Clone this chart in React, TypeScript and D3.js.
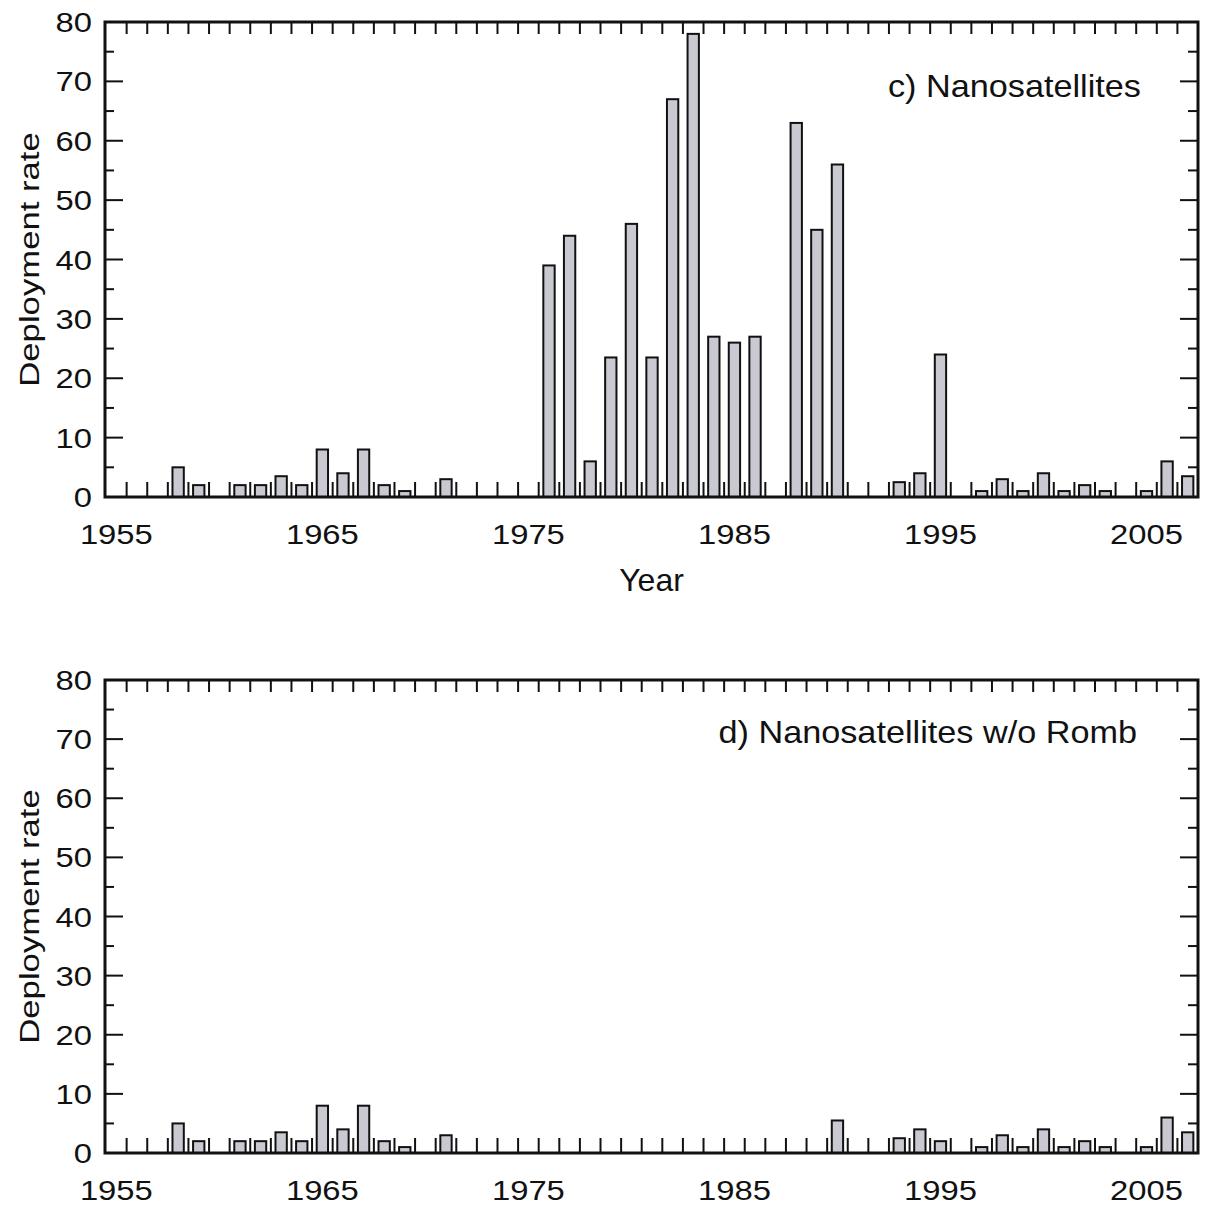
import React from "react";
import * as d3 from "d3";

// deployment rate per year
const years = [
  1958, 1959, 1961, 1962, 1963, 1964, 1965, 1966, 1967, 1968, 1969, 1971,
  1976, 1977, 1978, 1979, 1980, 1981, 1982, 1983, 1984, 1985, 1986, 1988,
  1989, 1990, 1993, 1994, 1995, 1997, 1998, 1999, 2000, 2001, 2002, 2003,
  2005, 2006, 2007,
];
const nanoAll = [
  5, 2, 2, 2, 3.5, 2, 8, 4, 8, 2, 1, 3,
  39, 44, 6, 23.5, 46, 23.5, 67, 78, 27, 26, 27, 63,
  45, 56, 2.5, 4, 24, 1, 3, 1, 4, 1, 2, 1,
  1, 6, 3.5,
];
const nanoNoRomb = [
  5, 2, 2, 2, 3.5, 2, 8, 4, 8, 2, 1, 3,
  0, 0, 0, 0, 0, 0, 0, 0, 0, 0, 0, 0,
  0, 5.5, 2.5, 4, 2, 1, 3, 1, 4, 1, 2, 1,
  1, 6, 3.5,
];
const yearLabels = [1955, 1965, 1975, 1985, 1995, 2005];
const rateTicks = [0, 10, 20, 30, 40, 50, 60, 70, 80];
const rateMinor = [5, 15, 25, 35, 45, 55, 65, 75];

const W = 1214;
const H = 1211;
const FONT = "'Liberation Sans', Arial, Helvetica, sans-serif";
const BAR_FILL = "#c9c9d1";
const INK = "#111";

function Panel({ values, label, top, bottom, legendY, legendX, showTitle }) {
  const x = d3.scaleLinear().domain([1954.45, 2007.5]).range([105, 1198]);
  const y = d3.scaleLinear().domain([0, 80]).range([bottom, top]);
  const [x0, x1] = x.range();
  const bw = x(1955.55) - x(1955);
  // year boundaries get the small ticks
  const bounds = d3.range(1955, 2007).map(d => d + 0.5);
  const rows = years.map((yr, i) => ({ yr, v: values[i] })).filter(d => d.v > 0);

  return (
    <g>
      {rows.map(d => (
        <rect
          key={d.yr}
          x={x(d.yr) - bw / 2}
          y={y(d.v)}
          width={bw}
          height={y(0) - y(d.v)}
          fill={BAR_FILL}
          stroke={INK}
          strokeWidth={2}
        />
      ))}

      {bounds.map(b => (
        <g key={b} stroke={INK} strokeWidth={2}>
          <line x1={x(b)} x2={x(b)} y1={bottom} y2={bottom - 15} />
          <line x1={x(b)} x2={x(b)} y1={top} y2={top + 12} />
        </g>
      ))}

      {rateTicks.map(t => (
        <g key={t} stroke={INK} strokeWidth={2}>
          <line x1={x0} x2={x0 + 18} y1={y(t)} y2={y(t)} />
          <line x1={x1} x2={x1 - 18} y1={y(t)} y2={y(t)} />
        </g>
      ))}
      {rateMinor.map(t => (
        <g key={t} stroke={INK} strokeWidth={2}>
          <line x1={x0} x2={x0 + 9} y1={y(t)} y2={y(t)} />
          <line x1={x1} x2={x1 - 10} y1={y(t)} y2={y(t)} />
        </g>
      ))}

      <rect x={x0} y={top} width={x1 - x0} height={bottom - top} fill="none" stroke={INK} strokeWidth={3} />

      <g fontFamily={FONT} fontSize={28} fill={INK}>
        {rateTicks.map(t => (
          <text key={t} transform={`translate(${x0 - 13},${y(t)}) scale(1.17,1)`} dy="0.36em" textAnchor="end">
            {t}
          </text>
        ))}
        {yearLabels.map(yr => (
          <text key={yr} transform={`translate(${x(yr)},${bottom + 47}) scale(1.17,1)`} textAnchor="middle">
            {yr}
          </text>
        ))}
        <text transform={`translate(39,${(top + bottom) / 2}) rotate(-90) scale(1.24,1)`} textAnchor="middle">
          Deployment rate
        </text>
      </g>

      <text
        transform={`translate(${legendX},${legendY}) scale(1.07,1)`}
        textAnchor="end"
        fontFamily={FONT}
        fontSize={32}
        fill={INK}
      >
        {label}
      </text>

      {showTitle && (
        <text x={(x0 + x1) / 2} y={bottom + 94} textAnchor="middle" fontFamily={FONT} fontSize={32} fill={INK}>
          Year
        </text>
      )}
    </g>
  );
}

export default function App() {
  return (
    <svg
      width={W}
      height={H}
      viewBox={`0 0 ${W} ${H}`}
      style={{ position: "absolute", left: 0, top: 0, background: "#fff" }}
    >
      <rect width={W} height={H} fill="#fff" />
      <Panel values={nanoAll} label="c) Nanosatellites" top={22} bottom={497} legendY={97} legendX={1141} showTitle />
      <Panel values={nanoNoRomb} label="d) Nanosatellites w/o Romb" top={680} bottom={1153} legendY={743} legendX={1137} showTitle={false} />
    </svg>
  );
}
